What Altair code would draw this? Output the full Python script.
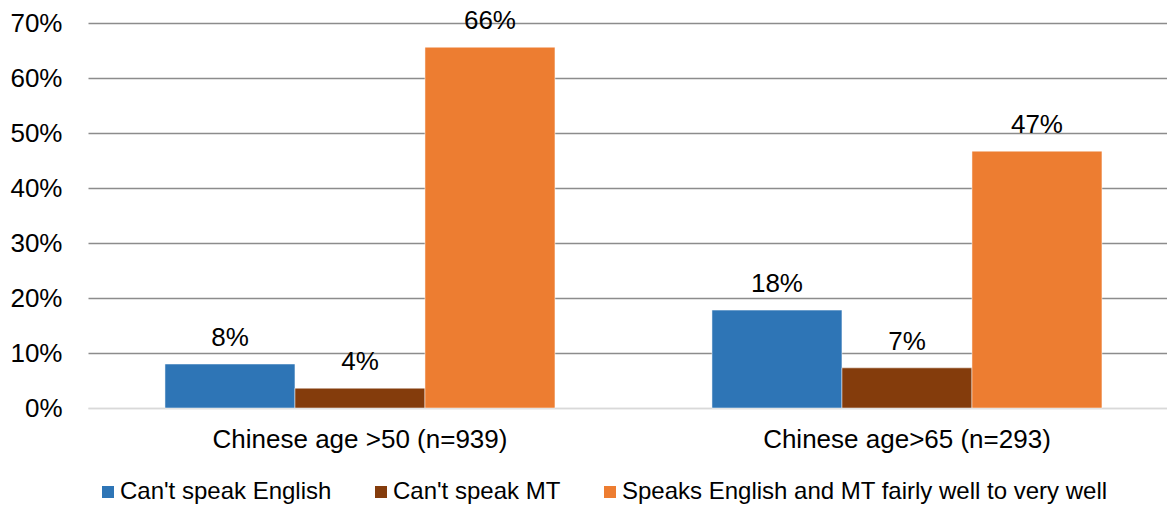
import altair as alt
import pandas as pd

groups = ["Chinese age >50 (n=939)", "Chinese age>65 (n=293)"]
series = ["Can't speak English", "Can't speak MT", "Speaks English and MT fairly well to very well"]
colors = ["#2E75B6", "#843C0C", "#ED7D31"]
vals_g1 = [0.080, 0.036, 0.656]
vals_g2 = [0.178, 0.073, 0.467]

rows = []
for g, vals in zip(groups, [vals_g1, vals_g2]):
    for s, v in zip(series, vals):
        rows.append({"group": g, "series": s, "value": v})
df = pd.DataFrame(rows)

FONT = "Liberation Sans"

x = alt.X("group:N", sort=groups,
          scale=alt.Scale(paddingInner=0.287, paddingOuter=0.1298, align=0.542),
          axis=alt.Axis(title=None, labelAngle=0, labelFontSize=26, labelColor="#000000",
                        labelFont=FONT, labelPadding=18, ticks=False, labelLimit=1000,
                        domainColor="#d9d9d9", domainWidth=1.5))
xo = alt.XOffset("series:N", sort=series, scale=alt.Scale(paddingInner=0, paddingOuter=0))
y = alt.Y("value:Q", scale=alt.Scale(domain=[0, 0.7], nice=False),
          axis=alt.Axis(title=None, format=".0%", values=[0, 0.1, 0.2, 0.3, 0.4, 0.5, 0.6, 0.7],
                        labelFontSize=26, labelColor="#000000", labelFont=FONT,
                        labelPadding=26, ticks=False, domain=False,
                        gridColor=alt.condition("datum.value === 0", alt.value("#d9d9d9"), alt.value("#8c8c8c")),
                        gridWidth=1.3))

bars = alt.Chart(df).mark_bar(stroke="white", strokeWidth=0.5).encode(
    x=x, xOffset=xo, y=y,
    color=alt.Color("series:N", sort=series,
                    scale=alt.Scale(domain=series, range=colors),
                    legend=alt.Legend(title=None, orient="none", direction="horizontal",
                                      legendX=8, legendY=457,
                                      symbolType="square", symbolSize=144, symbolStrokeWidth=0,
                                      labelFontSize=24, labelFont=FONT, labelColor="#000000",
                                      columnPadding=37, symbolOffset=0, labelOffset=0,
                                      labelLimit=800)),
)

labels = alt.Chart(df).mark_text(baseline="alphabetic", dy=-18, fontSize=26, font=FONT, color="#000000").encode(
    x=alt.X("group:N", sort=groups), xOffset=alt.XOffset("series:N", sort=series), y="value:Q",
    text=alt.Text("value:Q", format=".0%"),
)

chart = alt.layer(bars, labels).properties(
    width=1079, height=385,
    padding={"left": 80, "top": 15, "right": 0, "bottom": 98},
    autosize=alt.AutoSizeParams(type="none"),
).configure_view(stroke=None)

chart.save("out.html", embed_options={"renderer": "svg", "actions": False})
